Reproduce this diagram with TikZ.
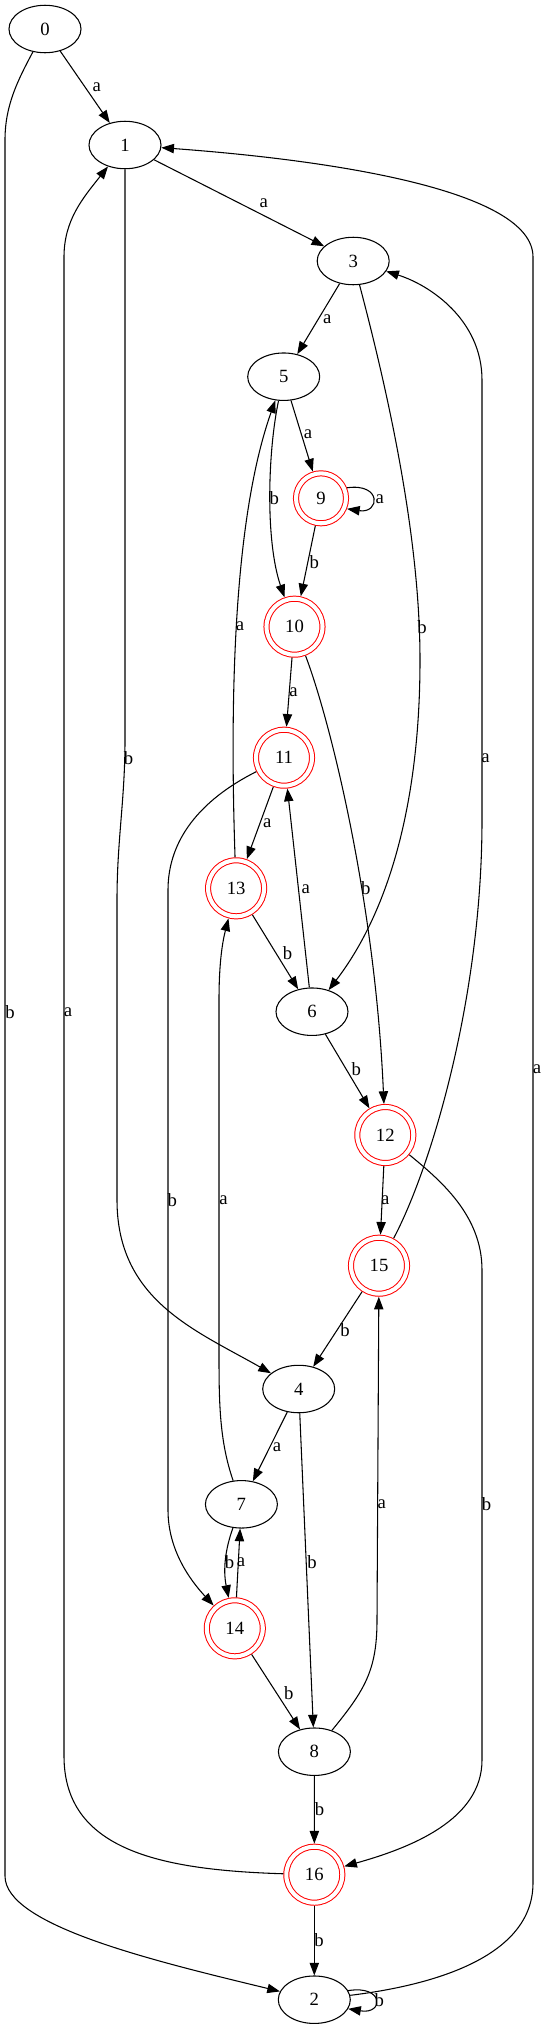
\documentclass[tikz,border=0pt]{standalone}
\usepackage{fontspec}
\setmainfont{Liberation Serif}
\usetikzlibrary{shapes.geometric,arrows.meta}

\begin{document}
\begin{tikzpicture}[x=0.75pt, y=-0.75pt, line width=0.8pt, >={Triangle[length=9.5pt,width=7pt]}, font=\fontsize{14}{16}\selectfont, state/.style={draw, ellipse, minimum width=54pt, minimum height=35.6pt, inner sep=0pt}, accept/.style={draw=red, circle, double, double distance=3.05pt, line width=0.75pt, minimum size=42pt, inner sep=0pt, outer sep=2.3pt}, lbl/.style={inner sep=0pt}]
	\useasboundingbox (0,0) rectangle (547,2028);
	\node[state] (Q0) at (45,29) {0};
	\node[state] (Q1) at (125,145) {1};
	\node[state] (Q3) at (353.2,261) {3};
	\node[state] (Q5) at (283.7,376.7) {5};
	\node[accept, minimum size=37.5pt] (Q9) at (321,498.3) {9};
	\node[accept] (Q10) at (294.5,626.7) {10};
	\node[accept] (Q11) at (284,757.7) {11};
	\node[accept] (Q13) at (236.1,888.3) {13};
	\node[state] (Q6) at (312,1011.7) {6};
	\node[accept] (Q12) at (385.3,1135) {12};
	\node[accept] (Q15) at (379,1265.7) {15};
	\node[state] (Q4) at (298.7,1389) {4};
	\node[state] (Q7) at (241.4,1504.3) {7};
	\node[accept] (Q14) at (234.8,1628.3) {14};
	\node[state] (Q8) at (314.4,1751.7) {8};
	\node[accept] (Q16) at (314.3,1874.7) {16};
	\node[state] (Q2) at (314.3,1999.7) {2};
	\draw[->] (Q0) -- (Q1) node[lbl] at (96.7,87.3) {a};
	\draw[->] (Q0) .. controls (18,80) and (5,105) .. (5,140) -- (5,1876) .. controls (5,1925) and (150,1960) .. (Q2) node[lbl] at (10,1011.7) {b};
	\draw[->] (Q1) -- (Q3) node[lbl] at (263.7,203.3) {a};
	\draw[->] (Q1) -- (125,740) .. controls (125,800) and (117,840) .. (117,900) -- (117,1200) .. controls (117,1300) and (195,1330) .. (Q4) node[lbl] at (128.5,757.7) {b};
	\draw[->] (Q16) .. controls (160,1870) and (64,1850) .. (64,1756) -- (64,257) .. controls (64,220) and (83,198) .. (Q1) node[lbl] at (68,1011.7) {a};
	\draw[->] (Q2) .. controls (410,1988) and (533,1965) .. (533,1883) -- (533,257) .. controls (533,190) and (330,160) .. (Q1) node[lbl] at (537,1069.3) {a};
	\draw[->] (Q3) -- (Q5) node[lbl] at (327.3,319.3) {a};
	\draw[->] (Q3) .. controls (390,400) and (420,540) .. (420,660) .. controls (420,800) and (390,910) .. (Q6) node[lbl] at (422,626.7) {b};
	\draw[->] (Q5) -- (Q9) node[lbl] at (308,434.3) {a};
	\draw[->] (Q5) .. controls (268,450) and (265,540) .. (Q10) node[lbl] at (274.2,498.3) {b};
	\draw[->] (Q9.22) .. controls +(35,-5) and +(33,5) .. (Q9.-22) node[lbl] at (379.7,499) {a};
	\draw[->] (Q9) -- (Q10) node[lbl] at (314.4,561.7) {b};
	\draw[->] (Q10) -- (Q11) node[lbl] at (293.4,692.7) {a};
	\draw[->] (Q10) .. controls (330,720) and (375,900) .. (Q12) node[lbl] at (365.7,888.3) {b};
	\draw[->] (Q11) -- (Q13) node[lbl] at (267.2,822.7) {a};
	\draw[->] (Q11) .. controls (200,800) and (168,840) .. (168,890) -- (168,1510) .. controls (168,1550) and (190,1580) .. (Q14) node[lbl] at (172.2,1200) {b};
	\draw[->] (Q13) .. controls (228,650) and (240,500) .. (Q5) node[lbl] at (240,626.7) {a};
	\draw[->] (Q13) -- (Q6) node[lbl] at (287.5,953.3) {b};
	\draw[->] (Q6) -- (Q11) node[lbl] at (305.7,889.3) {a};
	\draw[->] (Q6) -- (Q12) node[lbl] at (356.3,1069.3) {b};
	\draw[->] (Q12) -- (Q15) node[lbl] at (385.3,1200) {a};
	\draw[->] (Q12) .. controls (440,1180) and (482,1215) .. (482,1270) -- (482,1760) .. controls (482,1820) and (410,1848) .. (Q16) node[lbl] at (486.6,1504.3) {b};
	\draw[->] (Q15) .. controls (430,1170) and (482,1000) .. (482,820) -- (482,380) .. controls (482,320) and (430,285) .. (Q3) node[lbl] at (485.6,757.7) {a};
	\draw[->] (Q15) -- (Q4) node[lbl] at (345.1,1330) {b};
	\draw[->] (Q4) -- (Q7) node[lbl] at (277,1446.7) {a};
	\draw[->] (Q4) -- (Q8) node[lbl] at (312,1561.7) {b};
	\draw[->] (Q7) .. controls (219,1440) and (219,1400) .. (219,1350) -- (219,1000) .. controls (219,960) and (223,940) .. (Q13) node[lbl] at (223.6,1200) {a};
	\draw[->] (Q7) .. controls (225,1550) and (223,1570) .. (Q14) node[lbl] at (229.5,1562.3) {b};
	\draw[->] (Q14) -- (Q7) node[lbl] at (241,1562.3) {a};
	\draw[->] (Q14) -- (Q8) node[lbl] at (288.9,1693.3) {b};
	\draw[->] (Q8) .. controls (365,1690) and (377,1670) .. (377,1620) -- (Q15) node[lbl] at (381.8,1504.3) {a};
	\draw[->] (Q8) -- (Q16) node[lbl] at (319.6,1809.3) {b};
	\draw[->] (Q16) -- (Q2) node[lbl] at (319,1940.3) {b};
	\draw[->] (Q2.15) .. controls +(36,-6) and +(36,6) .. (Q2.-15) node[lbl] at (379.3,1999.7) {b};
\end{tikzpicture}
\end{document}
